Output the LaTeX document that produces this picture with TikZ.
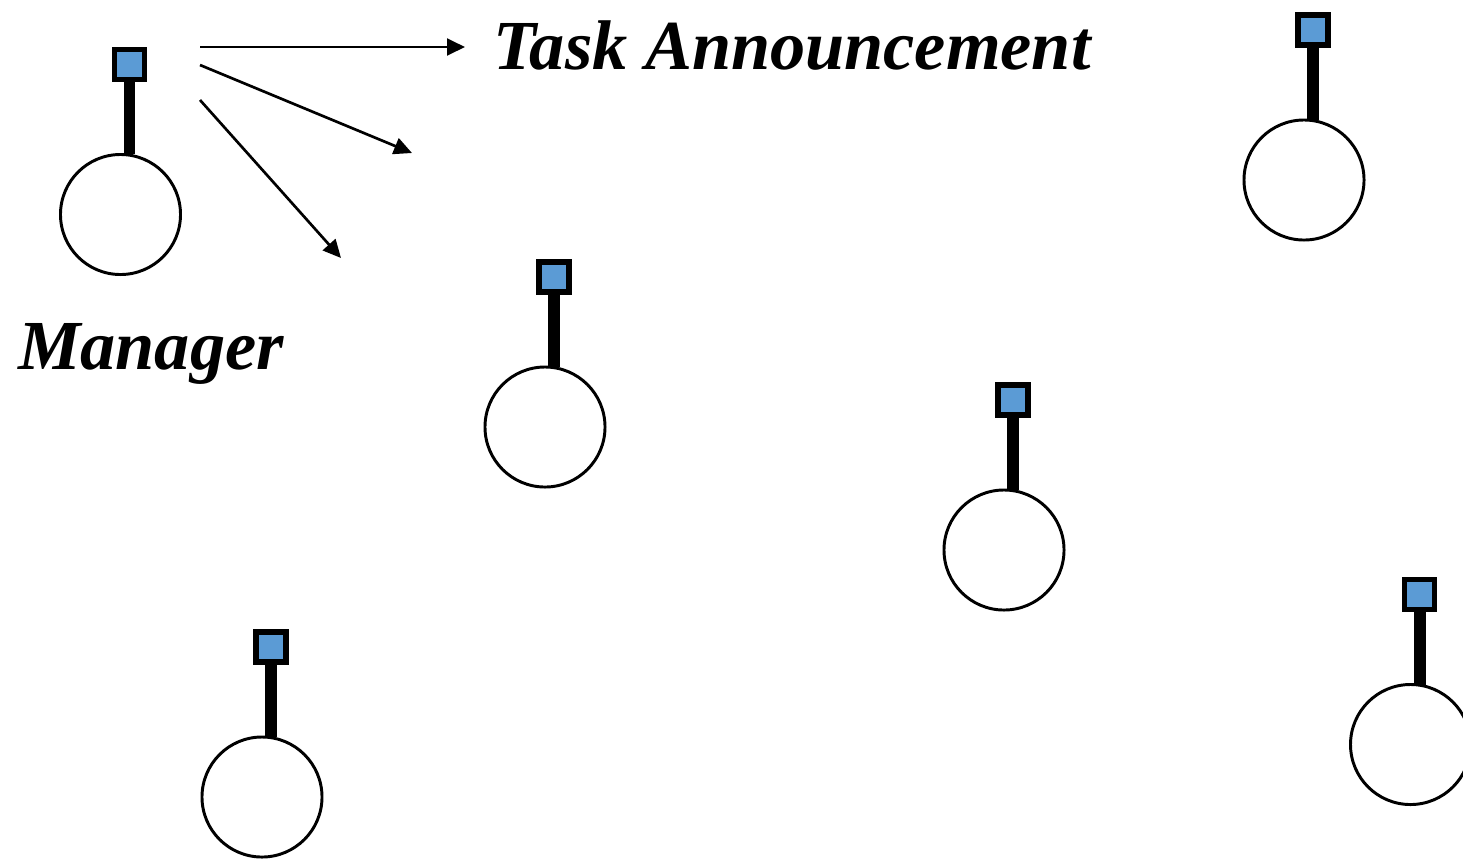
\documentclass[tikz,border=0pt]{standalone}
\usepackage{fontspec}
\setmainfont{Liberation Serif}
\usetikzlibrary{positioning,arrows.meta}
\definecolor{flagblue}{RGB}{91,155,213}
\begin{document}
\begin{tikzpicture}[x=0.025cm,y=-0.025cm,node distance=1.88cm,
  agent/.style={circle,draw,line width=2.1pt,minimum size=3cm,inner sep=0pt,outer sep=0pt},
  flag/.style={rectangle,draw,fill=flagblue,line width=3.9pt,minimum size=0.74cm,inner sep=0pt,outer sep=0pt,xshift=0.225cm},
  pole/.style={line width=8.5pt},
  msg/.style={-{Triangle[length=0.45cm,width=0.42cm]},line width=1.9pt},
  big text/.style={font=\fontsize{50}{60}\selectfont\bfseries\itshape,inner sep=0pt,anchor=base}]
\useasboundingbox (0,0) rectangle (1463,858);
% agents
\node[agent] (1) at (120.5,214.5) {};
\node[agent] (2) at (545,427) {};
\node[agent] (3) at (1304,180) {};
\node[agent] (4) at (1004,550) {};
\node[agent] (5) at (262,797) {};
\node[agent] (6) at (1410.5,744.5) {};
% flags and poles
\foreach \n in {1,...,6} {
  \node[flag] (f\n) [above=of \n] {};
  \draw[pole] (f\n.south) -- (f\n.south |- \n.north);
}
% announcement
\coordinate (s1) at (200,47);
\coordinate (e1) at (465,47);
\coordinate (s2) at (200,65);
\coordinate (e2) at (412,153);
\coordinate (s3) at (200,100);
\coordinate (e3) at (341,258);
\draw[msg] (s1) -- (e1);
\draw[msg] (s2) -- (e2);
\draw[msg] (s3) -- (e3);
\node[big text] (task) at (792,69) {Task Announcement};
\node[big text] (mgr) at (151,369) {Manager};
\end{tikzpicture}
\end{document}
